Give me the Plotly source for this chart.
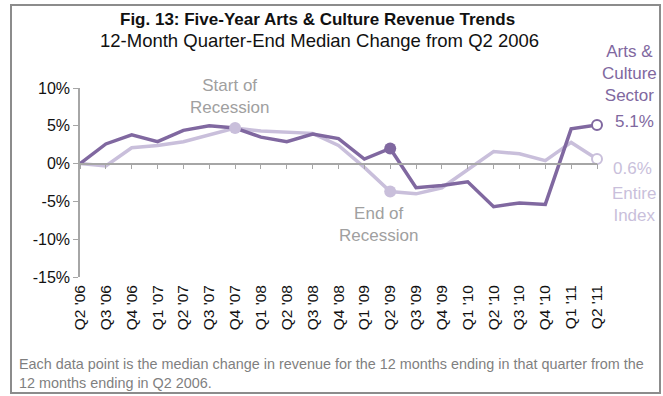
import plotly.graph_objects as go

quarters = ["Q2 '06", "Q3 '06", "Q4 '06", "Q1 '07", "Q2 '07", "Q3 '07", "Q4 '07",
            "Q1 '08", "Q2 '08", "Q3 '08", "Q4 '08", "Q1 '09", "Q2 '09", "Q3 '09",
            "Q4 '09", "Q1 '10", "Q2 '10", "Q3 '10", "Q4 '10", "Q1 '11", "Q2 '11"]
arts_culture = [0.0, 2.6, 3.8, 2.9, 4.4, 5.0, 4.7, 3.5, 2.9, 3.9, 3.3, 0.6, 2.0,
                -3.2, -2.9, -2.4, -5.7, -5.2, -5.4, 4.6, 5.1]
entire_index = [0.0, -0.3, 2.1, 2.4, 2.9, 3.8, 4.7, 4.3, 4.2, 4.0, 2.4, -0.5, -3.7,
                -4.0, -3.2, -0.8, 1.6, 1.3, 0.4, 2.8, 0.6]
y_ticks = [-15, -10, -5, 0, 5, 10]
y_tick_text = ["-15%", "-10%", "-5%", "0%", "5%", "10%"]

DARK = "#8068a0"
LIGHT = "#c9bfdb"
GRAY_TXT = "#a0a0a0"
AXIS = "#a6a6a6"
FONT = "Liberation Sans, Arial, sans-serif"

x = list(range(len(quarters)))
start_idx = quarters.index("Q4 '07")
end_idx = quarters.index("Q2 '09")
last = len(quarters) - 1

fig = go.Figure()

fig.add_trace(go.Scatter(x=x, y=entire_index, mode="lines",
                         line=dict(color=LIGHT, width=3.5), cliponaxis=False,
                         hoverinfo="skip", showlegend=False))
fig.add_trace(go.Scatter(x=x, y=arts_culture, mode="lines",
                         line=dict(color=DARK, width=3.5), cliponaxis=False,
                         hoverinfo="skip", showlegend=False))

# recession markers
fig.add_trace(go.Scatter(x=[x[start_idx], x[end_idx]],
                         y=[entire_index[start_idx], entire_index[end_idx]],
                         mode="markers", marker=dict(color=LIGHT, size=12),
                         cliponaxis=False, showlegend=False))
fig.add_trace(go.Scatter(x=[x[end_idx]], y=[arts_culture[end_idx]],
                         mode="markers", marker=dict(color=DARK, size=12),
                         cliponaxis=False, showlegend=False))
# end points
fig.add_trace(go.Scatter(x=[x[last]], y=[arts_culture[last]], mode="markers",
                         marker=dict(color="white", size=10,
                                     line=dict(color=DARK, width=2)),
                         cliponaxis=False, showlegend=False))
fig.add_trace(go.Scatter(x=[x[last]], y=[entire_index[last]], mode="markers",
                         marker=dict(color="white", size=10,
                                     line=dict(color=LIGHT, width=2)),
                         cliponaxis=False, showlegend=False))
# carrier for the bottom label axis
fig.add_trace(go.Scatter(x=x, y=[None] * len(x), xaxis="x2", mode="lines",
                         showlegend=False, hoverinfo="skip"))

ymin, ymax = y_ticks[0], y_ticks[-1]
zero_pos = (0 - ymin) / (ymax - ymin)

fig.update_layout(
    width=663, height=396,
    margin=dict(l=80, r=66, t=88, b=119),
    paper_bgcolor="white", plot_bgcolor="white",
    font=dict(family=FONT, size=14, color="#222"),
    xaxis=dict(range=[0, last], anchor="free", position=zero_pos,
               showline=True, linecolor=AXIS, linewidth=1.5,
               ticks="outside", ticklen=5, tickcolor=AXIS,
               tickvals=x, showticklabels=False, showgrid=False,
               zeroline=False, fixedrange=True),
    xaxis2=dict(range=[0, last], overlaying="x", anchor="y", side="bottom",
                tickvals=x, ticktext=quarters, tickangle=-90,
                tickfont=dict(size=15.5, color="#111"), ticklabelstandoff=4,
                showline=False, ticks="", showgrid=False, zeroline=False),
    yaxis=dict(range=[ymin, ymax], tickvals=y_ticks, ticktext=y_tick_text,
               showline=True, linecolor=AXIS, linewidth=1.5,
               ticks="outside", ticklen=5, tickcolor=AXIS,
               tickfont=dict(size=16, color="#111"),
               showgrid=False, zeroline=False),
)

def px_x(p):
    return (p - 80) / 517

def px_y(p):
    return (277 - p) / 189

# outer frame
fig.add_shape(type="rect", xref="paper", yref="paper",
              x0=px_x(11), x1=px_x(660), y0=px_y(393), y1=px_y(5),
              line=dict(color="#8c8c8c", width=2), layer="below")

ann = []
ann.append(dict(text="<b>Fig. 13: Five-Year Arts & Culture Revenue Trends</b>",
                x=px_x(317), y=px_y(19), font=dict(size=17, color="#111")))
ann.append(dict(text="12-Month Quarter-End Median Change from Q2 2006",
                x=px_x(319), y=px_y(40), font=dict(size=18.5, color="#111")))
ann.append(dict(text="Start of<br>Recession", x=px_x(229), y=px_y(96),
                font=dict(size=17, color=GRAY_TXT)))
ann.append(dict(text="End of<br>Recession", x=px_x(378), y=px_y(224),
                font=dict(size=17, color=GRAY_TXT)))
ann.append(dict(text="Arts &<br>Culture<br>Sector", x=px_x(629), y=px_y(74),
                font=dict(size=17, color=DARK)))
ann.append(dict(text=f"{arts_culture[last]:.1f}%", x=px_x(634), y=px_y(121),
                font=dict(size=17, color=DARK)))
ann.append(dict(text=f"{entire_index[last]:.1f}%", x=px_x(632), y=px_y(168),
                font=dict(size=17, color=LIGHT)))
ann.append(dict(text="Entire<br>Index", x=px_x(634), y=px_y(204),
                font=dict(size=17, color=LIGHT)))
ann.append(dict(text="Each data point is the median change in revenue for the 12 months "
                     "ending in that quarter from the<br>12 months ending in Q2 2006.",
                x=px_x(17), y=px_y(373), xanchor="left", align="left",
                font=dict(size=14.4, color="#7f7f7f")))
for a in ann:
    a.setdefault("xanchor", "center")
    a.update(xref="paper", yref="paper", yanchor="middle", showarrow=False)
fig.update_layout(annotations=ann)

fig.write_html("out.html")
